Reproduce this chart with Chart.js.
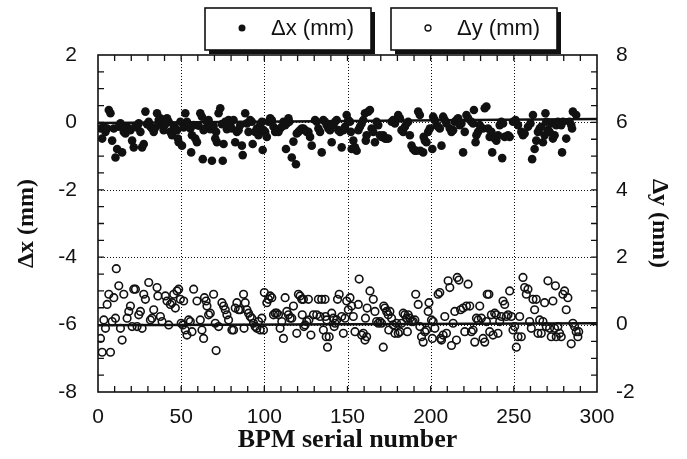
<!DOCTYPE html>
<html>
<head>
<meta charset="utf-8">
<style>
  html, body { margin: 0; padding: 0; background: #fff; }
</style>
<script src="https://cdn.jsdelivr.net/npm/chart.js@4.4.1/dist/chart.umd.min.js"></script>
</head>
<body>
<canvas id="chart" width="687" height="459"></canvas>
<script>
(function () {
  // ---- data ----
  const xTicks = [0, 50, 100, 150, 200, 250, 300];
  const leftTicks = [-8, -6, -4, -2, 0, 2];
  const rightTicks = [-2, 0, 2, 4, 6, 8];
  const legendLabels = ["\u0394x (mm)", "\u0394y (mm)"];

  // [BPM serial number, Δx (mm)]
  const deltaX = [
    [1.5,-0.18],[2.5,-0.48],[3.5,-0.13],[4.5,-0.28],[5.5,-0.18],[6.5,0.37],[7.5,0.27],[8.5,-0.54],
    [9.5,-0.18],[10.5,-1.04],[11.5,-0.79],[12.5,-0.13],[13.5,-0.03],[14.5,-0.89],[15.5,-0.28],[16.5,-0.33],
    [17.5,-0.13],[18.5,-0.2],[19.5,-0.23],[20.5,-0.54],[21.5,-0.74],[22.5,-0.1],[23.5,-0.15],[24.5,-0.03],
    [25.5,-0.28],[26.5,-0.74],[27.5,-0.64],[28.5,0.32],[29.5,-0.05],[30.5,0.02],[31.5,-0.13],[32.5,-0.18],
    [33.5,-0.28],[34.5,-0.15],[35.5,0.27],[36.5,0.07],[37.5,0.12],[38.5,-0.08],[39.5,-0.23],[40.5,-0.05],
    [41.5,0.12],[42.5,0.02],[43.5,-0.28],[44.5,-0.38],[45.5,-0.1],[46.5,-0.18],[47.5,-0.23],[48,-0.48],
    [48.5,-0.59],[49.5,0.02],[50.5,-0.69],[51.5,-0.15],[52.5,0.27],[53.5,0.02],[54.5,-0.08],[55.5,-0.18],
    [56,-0.89],[56.5,-0.38],[57.5,-0.08],[58.5,-0.48],[59.5,-0.59],[60.5,-0.1],[61.5,0.27],[62.5,0.17],
    [63,-1.09],[63.5,-0.23],[64.5,-0.18],[65.5,0.02],[66.5,0.07],[67.5,-0.2],[68.5,-1.14],[69.5,-0.1],
    [70.5,-0.48],[71,-0.28],[71.5,-0.59],[72.5,0.27],[73.5,0.42],[74.5,-0.05],[75,-1.14],[75.5,-0.64],
    [76.5,0.02],[77.5,-0.2],[78.5,0.07],[79.5,-0.08],[80.5,-0.18],[81.5,0.07],[82.5,-0.59],[83.5,-0.28],
    [84.5,-0.23],[85.5,-0.08],[86.5,-0.69],[87,-0.97],[88.5,0.27],[89.5,-0.03],[90.5,-0.28],[91.5,0.07],
    [92.5,0.02],[93,-0.64],[94.5,-0.28],[95.5,-0.18],[96.5,-0.38],[97.5,-0.08],[98.5,0.02],[99,-0.82],
    [99.5,-0.23],[100.5,-0.28],[101.5,-0.43],[102.5,0.02],[103.5,0.12],[104.5,0.07],[105.5,-0.13],[106.5,-0.28],
    [107.5,-0.23],[108.5,-0.28],[109.5,-0.18],[110.5,-0.13],[111.5,0.02],[112.5,-0.08],[113,-0.79],[113.5,-0.03],
    [114.5,0.12],[115,0.02],[116.5,-1.04],[117.5,-0.57],[119,-1.24],[119.5,-0.33],[120.5,-0.28],[121.5,-0.23],
    [122.5,-0.18],[123.5,-0.18],[124.5,-0.23],[125.5,-0.28],[126.5,-0.28],[127.5,-0.43],[128.5,-0.69],[130.5,0.07],
    [131.5,0.02],[132.5,-0.18],[133.5,-0.28],[134.5,-0.89],[135.5,0.07],[136.5,0.02],[137.5,-0.08],[138.5,-0.18],
    [139.5,-0.23],[140.5,-0.59],[141.5,-0.08],[142.5,0.02],[143.5,0.07],[144.5,-0.23],[145.5,-0.28],[146.5,-0.74],
    [147.5,-0.23],[148.5,-0.13],[149.5,0.22],[150.5,0.07],[151.5,0.02],[152,-0.28],[152.5,-0.79],[153.5,-0.54],
    [154.5,-0.74],[155.5,-0.84],[156.5,-0.23],[157.5,-0.13],[158.5,-0.03],[159.5,0.07],[160.5,0.27],[161,-0.54],
    [161.5,-0.38],[162.5,0.32],[163.5,0.37],[164.5,-0.18],[165.5,-0.28],[166.5,-0.59],[167.5,0.02],[168.5,-0.08],
    [169.5,-0.38],[170.5,-0.43],[171.5,-0.38],[172.5,-0.48],[173.5,-0.48],[174.5,-0.48],[176.5,0.02],[177.5,0.07],
    [178.5,-0.03],[180.5,0.22],[181.5,0.12],[182.5,-0.23],[183.5,-0.28],[184.5,-0.13],[185.5,-0.03],[186.5,0.02],
    [187.5,-0.38],[188.5,-0.69],[189.5,-0.79],[190.5,-0.84],[191.5,-0.84],[192.5,0.32],[193.5,0.22],[193.8,-0.84],
    [195.5,-0.89],[195.8,-0.43],[196.5,-0.54],[197.5,-0.59],[198.5,-0.28],[199.5,-0.18],[201,-0.79],[201.5,0.17],
    [202.5,0.07],[203.5,-0.08],[204.5,-0.13],[205.5,-0.18],[206.5,-0.69],[207.5,0.17],[208.5,0.07],[209.5,-0.03],
    [211.5,-0.18],[212.5,-0.28],[213.5,-0.23],[214.5,0.02],[215.5,0.07],[216.5,0.12],[217.5,-0.08],[218.5,-0.03],
    [219.5,-0.89],[220.5,-0.28],[221.5,0.22],[222.5,0.12],[224.5,0.02],[225.5,-0.03],[226,0.37],[227,-0.59],
    [227.5,-0.38],[228.5,-0.28],[229.5,-0.08],[231.5,-0.18],[232.5,0.42],[233.5,0.47],[234.5,-0.18],[235.5,-0.43],
    [236.5,-0.28],[237,-0.89],[238.5,-0.48],[239.5,-0.54],[240.5,-0.38],[241.5,-0.08],[242.5,0.02],[243,-1.06],
    [243.5,-0.03],[244.5,-0.43],[246.5,-0.38],[247.5,-0.43],[249.5,0.02],[251,0.07],[252.5,-0.08],[254.5,-0.28],
    [255.5,-0.38],[256.5,-0.33],[258.5,-0.13],[260,-0.03],[261,-1.09],[261.5,0.22],[262.5,-0.79],[263.5,-0.54],
    [264.5,-0.28],[265.5,-0.18],[266.5,-0.13],[267.5,-0.59],[268.5,-0.38],[269,0.27],[269.5,0.02],[270.5,-0.23],
    [271.5,-0.28],[272.5,-0.03],[273.5,-0.48],[274.5,-0.38],[275.5,-0.08],[276.5,0.02],[277.5,-0.03],[278.5,-0.08],
    [279,-0.89],[279.5,0.02],[281.5,-0.48],[283.5,0.02],[284.5,-0.08],[285,-0.18],[285.5,0.32],[287.5,0.22]
  ];

  // [BPM serial number, Δy (mm)] - right axis
  const deltaY = [
    [1.5,-0.41],[2.5,-0.82],[3.5,0.14],[4.5,-0.11],[5.5,0.6],[6.5,0.9],[7.5,-0.82],[8.5,0.09],
    [9.5,0.8],[10.5,0.19],[11,1.66],[12.5,1.15],[13.5,-0.11],[14.5,-0.46],[15.5,0.9],[17.5,0.19],
    [18.5,0.39],[19.5,0.55],[20.5,-0.06],[21.5,1.05],[22.5,1.05],[23.5,-0.06],[24.5,0.29],[25.5,0.39],
    [26.5,-0.11],[27.5,0.9],[28.5,0.75],[30.5,1.25],[31.5,0.14],[32.5,0.19],[33.5,0.44],[35.5,1.1],
    [36,0.85],[37.5,0.24],[38.5,0.09],[40.5,0.85],[41.5,0.7],[42.5,-0.01],[43.5,0.6],[44.5,0.65],
    [45.5,0.9],[46.5,0.49],[47.5,1.0],[48.5,1.05],[49.5,0.75],[50,0.04],[51,-0.01],[51.5,0.7],
    [52.5,-0.16],[53.5,-0.31],[54.5,0.14],[55.5,0.09],[56.5,-0.21],[57.5,1.05],[59.5,0.7],[61.5,0.14],
    [62.5,-0.16],[63.5,-0.41],[64,0.8],[65,0.7],[65.5,0.55],[66.5,0.29],[67.5,0.34],[69.5,0.9],
    [70.5,0.04],[71,-0.77],[72.5,-0.06],[74.5,0.65],[75.5,0.55],[76.5,0.44],[77.5,0.29],[78.5,0.14],
    [80.5,-0.16],[81.5,-0.16],[82.5,0.49],[83.5,0.65],[84.5,0.44],[85.5,0.44],[87.5,0.9],[87.8,-0.11],
    [88.5,0.65],[89.5,0.44],[90.5,0.34],[91.5,0.24],[92.5,0.19],[93.5,0.04],[94.5,-0.06],[95.5,-0.11],
    [96.5,0.09],[97.5,-0.16],[98.5,0.19],[99.5,-0.16],[100,0.95],[101.5,0.65],[102.5,0.75],[103.5,0.85],
    [104.5,0.8],[105.5,0.29],[106.5,0.34],[107.5,0.34],[108.5,0.29],[109.5,-0.11],[110.5,0.09],[111.5,-0.41],
    [112.5,0.8],[113.5,0.39],[114.5,0.29],[115.5,0.19],[116.5,0.19],[117.5,0.55],[119.5,-0.26],[120.5,0.9],
    [121.5,0.85],[122.5,0.75],[122.8,0.29],[123.5,0.75],[123.8,-0.06],[124.5,-0.01],[125.5,0.09],[126.5,0.75],
    [126.8,0.14],[128,-0.31],[129.5,0.29],[131.5,0.29],[132.5,0.75],[133.5,0.24],[134.5,0.75],[135.5,-0.16],
    [136.5,0.75],[136.8,0.24],[137.2,-0.36],[137.5,0.14],[138,-0.67],[139,-0.36],[140.5,0.34],[141.5,0.19],
    [142,-0.06],[142.5,0.04],[143.5,0.14],[144,0.75],[145,0.9],[146.5,0.24],[147.5,-0.26],[148.5,0.19],
    [149.5,0.7],[150.5,0.44],[151.5,0.8],[152.5,0.55],[153.5,0.24],[154.5,-0.21],[156.5,0.6],[157,1.35],
    [158.5,-0.31],[159.5,-0.26],[160.5,-0.46],[160.8,0.19],[161.5,-0.36],[161.8,0.49],[163.5,1.0],[165.5,0.75],
    [166.5,0.39],[167.5,0.09],[168.5,0.04],[169.5,0.09],[170.5,0.04],[171.5,-0.67],[171.8,0.55],[172.5,0.49],
    [173.5,0.39],[174.5,0.29],[174.8,-0.16],[175.5,0.39],[176.5,0.19],[177.5,-0.01],[178.5,-0.26],[179.5,0.04],
    [180.5,-0.26],[181.5,-0.21],[182.5,0.04],[183.5,0.34],[184.5,0.29],[185.5,0.19],[186,-0.21],[186.5,0.29],
    [187.5,0.19],[188.5,0.09],[189.5,0.09],[190.5,0.14],[191,0.9],[192.5,0.6],[193.5,-0.06],[194.5,-0.36],
    [195.5,-0.52],[196.5,-0.21],[197.5,-0.16],[198.5,0.39],[199,0.65],[200.5,0.14],[201,-0.41],[201.5,0.09],
    [202.5,-0.11],[204.5,0.9],[205.5,0.95],[206,-0.41],[206.5,-0.46],[207.5,-0.31],[208.5,0.24],[209.5,-0.26],
    [210.5,1.3],[211.5,1.1],[212.5,-0.62],[213.5,0.04],[214.5,0.39],[215.5,-0.46],[216,1.4],[217,1.32],
    [218,0.44],[219.5,0.49],[220.5,-0.21],[221.5,0.55],[222.5,1.2],[223.5,0.55],[224.5,-0.21],[225.5,-0.16],
    [226.5,-0.52],[227.5,0.19],[228.5,0.14],[229.5,0.55],[230.5,0.19],[231.5,-0.41],[232.5,-0.52],[233.5,0.09],
    [234,0.9],[235,0.9],[235.5,-0.21],[236.5,0.29],[237.5,-0.31],[238.5,0.34],[239.5,0.29],[240.5,-0.26],
    [241.5,0.09],[242.5,0.24],[243.5,0.7],[244.5,0.6],[245.5,0.24],[246.5,0.29],[247.5,1.0],[248.5,0.24],
    [249.5,-0.16],[250.5,-0.06],[251.5,-0.67],[252.5,-0.36],[253.5,0.24],[254.5,-0.36],[255.5,1.4],[256.5,1.1],
    [257.5,0.9],[258.5,1.05],[259.5,0.09],[260.5,-0.11],[261.5,0.75],[262.5,0.44],[263.5,0.75],[264.5,-0.26],
    [265.5,0.14],[266.5,-0.26],[267.5,0.09],[268.5,0.65],[269.5,-0.06],[270.5,1.3],[271.5,-0.11],[272.5,-0.36],
    [273.5,0.7],[274.5,-0.11],[275,1.15],[275.5,-0.36],[276.5,-0.06],[277.5,-0.26],[278.5,-0.36],[279.5,0.9],
    [280.5,1.0],[281.5,0.44],[282.5,0.8],[284.5,-0.57],[285.5,0.04],[286.5,-0.06],[287.5,-0.21],[288.5,-0.36],
    [289,-0.21]
  ];

  // straight fit lines through each set
  const fitX = [[0, -0.02], [300, 0.1]];
  const fitY = [[0, -0.02], [300, 0.04]];

  const INK = "#111";
  const toXY = (pairs) => pairs.map(([x, y]) => ({ x, y }));

  // ---- frame, dotted grid and inward ticks ----
  const framePlugin = {
    id: "frame",
    beforeDatasetsDraw(chart) {
      const { ctx, chartArea: a, scales } = chart;
      const sx = scales.x, sy = scales.y, sy2 = scales.y2;
      ctx.save();
      ctx.strokeStyle = INK;

      ctx.lineWidth = 1;
      ctx.setLineDash([1, 2]);
      ctx.beginPath();
      xTicks.slice(1, -1).forEach((v) => {
        const p = Math.round(sx.getPixelForValue(v)) + 0.5;
        ctx.moveTo(p, a.top);
        ctx.lineTo(p, a.bottom);
      });
      leftTicks.slice(1, -1).forEach((v) => {
        const p = Math.round(sy.getPixelForValue(v)) + 0.5;
        ctx.moveTo(a.left, p);
        ctx.lineTo(a.right, p);
      });
      ctx.stroke();
      ctx.setLineDash([]);

      ctx.lineWidth = 1.3;
      ctx.beginPath();
      for (let v = 10; v < 300; v += 10) {
        const p = sx.getPixelForValue(v);
        ctx.moveTo(p, a.bottom);
        ctx.lineTo(p, a.bottom - 6);
        ctx.moveTo(p, a.top);
        ctx.lineTo(p, a.top + 6);
      }
      for (let v = -7.5; v < 2; v += 0.5) {
        const p = sy.getPixelForValue(v);
        ctx.moveTo(a.left, p);
        ctx.lineTo(a.left + 6, p);
      }
      for (let v = -1.5; v < 8; v += 0.5) {
        const p = sy2.getPixelForValue(v);
        ctx.moveTo(a.right, p);
        ctx.lineTo(a.right - 6, p);
      }
      ctx.stroke();

      ctx.lineWidth = 1.6;
      ctx.strokeRect(a.left, a.top, a.right - a.left, a.bottom - a.top);
      ctx.restore();
    },
  };

  // ---- boxed legends with drop shadow ----
  const legendPlugin = {
    id: "boxLegend",
    afterDraw(chart) {
      const ctx = chart.ctx;
      const boxes = [
        { x: 205, y: 8, w: 166, h: 42, filled: true },
        { x: 391, y: 8, w: 166, h: 42, filled: false },
      ];
      ctx.save();
      boxes.forEach((b, i) => {
        ctx.fillStyle = INK;
        ctx.fillRect(b.x + 4, b.y + 4, b.w, b.h);
        ctx.fillStyle = "#fff";
        ctx.fillRect(b.x, b.y, b.w, b.h);
        ctx.strokeStyle = INK;
        ctx.lineWidth = 1.6;
        ctx.strokeRect(b.x, b.y, b.w, b.h);

        ctx.beginPath();
        ctx.arc(b.x + 37, b.y + 20, b.filled ? 3.5 : 3, 0, Math.PI * 2);
        if (b.filled) {
          ctx.fillStyle = INK;
          ctx.fill();
        } else {
          ctx.lineWidth = 1.3;
          ctx.stroke();
        }

        ctx.fillStyle = INK;
        ctx.font = "22px 'Liberation Sans', Arial, sans-serif";
        ctx.textBaseline = "middle";
        ctx.textAlign = "left";
        ctx.fillText(legendLabels[i], b.x + 66, b.y + 21);
      });
      ctx.restore();
    },
  };

  const tickFont = { family: "'Liberation Sans', Arial, sans-serif", size: 21 };
  const titleFont = { family: "'Liberation Serif', 'Times New Roman', serif", size: 24, weight: "bold" };

  new Chart(document.getElementById("chart"), {
    type: "scatter",
    data: {
      datasets: [
        {
          label: legendLabels[0],
          data: toXY(deltaX),
          yAxisID: "y",
          pointRadius: 4.3,
          pointBackgroundColor: INK,
          pointBorderWidth: 0,
        },
        {
          label: legendLabels[1],
          data: toXY(deltaY),
          yAxisID: "y2",
          pointRadius: 3.8,
          pointBackgroundColor: "rgba(0,0,0,0)",
          pointBorderColor: INK,
          pointBorderWidth: 1.6,
        },
        {
          type: "line",
          data: toXY(fitX),
          yAxisID: "y",
          borderColor: INK,
          borderWidth: 2.5,
          pointRadius: 0,
        },
        {
          type: "line",
          data: toXY(fitY),
          yAxisID: "y2",
          borderColor: INK,
          borderWidth: 2.5,
          pointRadius: 0,
        },
      ],
    },
    options: {
      responsive: false,
      animation: false,
      layout: { padding: { top: 55, left: 0, right: 0, bottom: 0 } },
      plugins: { legend: { display: false }, tooltip: { enabled: false } },
      scales: {
        x: {
          type: "linear",
          min: 0,
          max: 300,
          afterBuildTicks: (s) => { s.ticks = xTicks.map((v) => ({ value: v })); },
          afterFit: (s) => { s.height = 67; },
          grid: { display: false },
          border: { display: false },
          ticks: { font: tickFont, color: INK, padding: 5, maxRotation: 0 },
          title: { display: true, text: "BPM serial number", font: { ...titleFont, size: 26 }, color: INK, padding: { top: 0, bottom: 3 } },
        },
        y: {
          position: "left",
          min: -8,
          max: 2,
          afterBuildTicks: (s) => { s.ticks = leftTicks.map((v) => ({ value: v })); },
          afterFit: (s) => { s.width = 98; },
          grid: { display: false },
          border: { display: false },
          ticks: { font: tickFont, color: INK, padding: 13 },
          title: { display: true, text: "\u0394x (mm)", font: titleFont, color: INK, padding: 12 },
        },
        y2: {
          position: "right",
          min: -2,
          max: 8,
          afterBuildTicks: (s) => { s.ticks = rightTicks.map((v) => ({ value: v })); },
          afterFit: (s) => { s.width = 90; },
          grid: { display: false },
          border: { display: false },
          ticks: { font: tickFont, color: INK, padding: 11 },
          title: { display: true, text: "\u0394y (mm)", font: titleFont, color: INK, padding: 13 },
        },
      },
    },
    plugins: [framePlugin, legendPlugin],
  });
})();
</script>
</body>
</html>
